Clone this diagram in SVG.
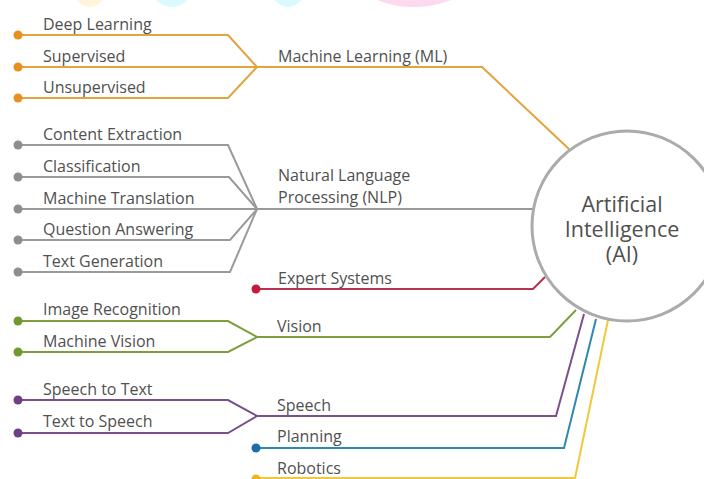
<svg xmlns="http://www.w3.org/2000/svg" width="704" height="479" viewBox="0 0 704 479">
<style>
text{font-family:"Open Sans","Noto Sans","Liberation Sans",sans-serif;fill:#505050;}
.lbl{font-size:16px;}
.ai{font-size:21.5px;text-anchor:middle;}
.ln{fill:none;stroke-width:2;stroke-linejoin:miter;}
.ml{stroke:#E3A33D;}
.nlp{stroke:#9A9A9A;}
.ex{stroke:#B8324F;}
.vi{stroke:#7E9E3E;}
.sp{stroke:#7A4F8C;}
.pl{stroke:#2E88B0;}
.ro{stroke:#F0C83A;}
</style>
<rect width="704" height="479" fill="#fff"/>
<g id="watermark" opacity="0.9">
<ellipse cx="90" cy="-22" rx="20" ry="29" fill="#FFF5D6"/>
<ellipse cx="172" cy="-22" rx="24" ry="29" fill="#D6FAFD"/>
<ellipse cx="288" cy="-22" rx="20" ry="29" fill="#D6FAFD"/>
<ellipse cx="414" cy="-40" rx="70" ry="47" fill="#FCD5EA"/>
</g>
<g id="connectors">
<path class="ln ml" d="M18,35 H228 L257,67"/>
<path class="ln ml" d="M18,67 H482 L570,150"/>
<path class="ln ml" d="M18,98 H228 L257,67"/>
<path class="ln nlp" d="M18,145 H228 L257,209"/>
<path class="ln nlp" d="M18,177 H229 L257,209"/>
<path class="ln nlp" d="M18,209 H534"/>
<path class="ln nlp" d="M18,240 H230 L257,209"/>
<path class="ln nlp" d="M18,272 H230 L257,209"/>
<path class="ln ex" d="M256,289 H533 L545,277"/>
<path class="ln vi" d="M18,321 H228 L257,337"/>
<path class="ln vi" d="M18,352 H228 L257,337"/>
<path class="ln vi" d="M257,337 H550 L576,310"/>
<path class="ln sp" d="M18,400 H228 L257,416"/>
<path class="ln sp" d="M18,433 H228 L257,416"/>
<path class="ln sp" d="M257,416 H556 L584,314"/>
<path class="ln pl" d="M256,448 H564 L596,319"/>
<path class="ln ro" d="M256,478 H575 L608,320"/>
</g>
<g id="ml-leaves">
<circle cx="18" cy="35" r="4.5" fill="#E5901F"/>
<circle cx="18" cy="67" r="4.5" fill="#E5901F"/>
<circle cx="18" cy="98" r="4.5" fill="#E5901F"/>
<text class="lbl" x="43" y="30">Deep Learning</text>
<text class="lbl" x="43" y="62">Supervised</text>
<text class="lbl" x="43" y="93">Unsupervised</text>
</g>
<g id="ml">
<text class="lbl" x="278" y="62">Machine Learning (ML)</text>
</g>
<g id="nlp-leaves">
<circle cx="18" cy="145" r="4.5" fill="#8E8E8E"/>
<circle cx="18" cy="177" r="4.5" fill="#8E8E8E"/>
<circle cx="18" cy="209" r="4.5" fill="#8E8E8E"/>
<circle cx="18" cy="240" r="4.5" fill="#8E8E8E"/>
<circle cx="18" cy="272" r="4.5" fill="#8E8E8E"/>
<text class="lbl" x="43" y="140">Content Extraction</text>
<text class="lbl" x="43" y="172">Classification</text>
<text class="lbl" x="43" y="204">Machine Translation</text>
<text class="lbl" x="43" y="235">Question Answering</text>
<text class="lbl" x="43" y="267">Text Generation</text>
</g>
<g id="nlp">
<text class="lbl" x="278" y="181">Natural Language</text>
<text class="lbl" x="278" y="203">Processing (NLP)</text>
</g>
<g id="expert">
<circle cx="256" cy="289" r="4.5" fill="#C8173F"/>
<text class="lbl" x="278" y="284">Expert Systems</text>
</g>
<g id="vision-leaves">
<circle cx="18" cy="321" r="4.5" fill="#6E9A2E"/>
<circle cx="18" cy="352" r="4.5" fill="#6E9A2E"/>
<text class="lbl" x="43" y="315">Image Recognition</text>
<text class="lbl" x="43" y="347">Machine Vision</text>
</g>
<g id="vision">
<text class="lbl" x="277" y="332">Vision</text>
</g>
<g id="speech-leaves">
<circle cx="18" cy="400" r="4.5" fill="#6E3F85"/>
<circle cx="18" cy="433" r="4.5" fill="#6E3F85"/>
<text class="lbl" x="43" y="395">Speech to Text</text>
<text class="lbl" x="43" y="427">Text to Speech</text>
</g>
<g id="speech">
<text class="lbl" x="277" y="411">Speech</text>
</g>
<g id="planning">
<circle cx="256" cy="448" r="4.5" fill="#1B6CAB"/>
<text class="lbl" x="277" y="442">Planning</text>
</g>
<g id="robotics">
<circle cx="256" cy="479" r="4.5" fill="#EDB41C"/>
<text class="lbl" x="277" y="474">Robotics</text>
</g>
<g id="ai">
<circle cx="627" cy="226" r="95" fill="#fff" stroke="#ABABAB" stroke-width="3"/>
<text class="ai" x="622" y="212">Artificial</text>
<text class="ai" x="622" y="237">Intelligence</text>
<text class="ai" x="622" y="262">(AI)</text>
</g>
</svg>
